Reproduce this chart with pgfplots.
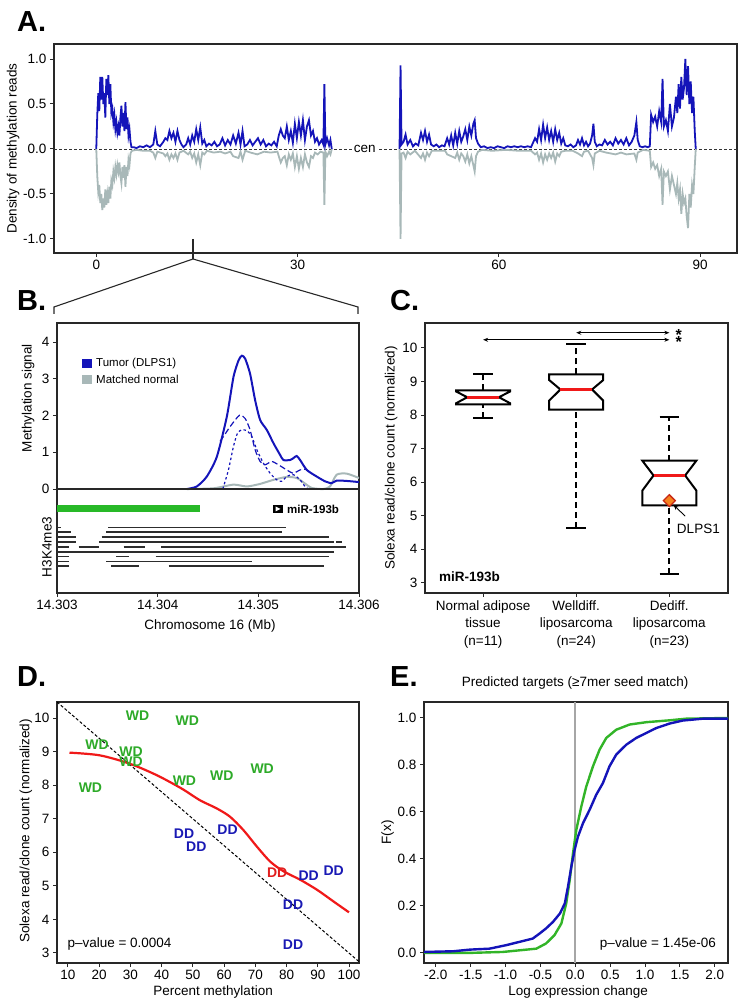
\documentclass[border=0pt]{standalone}
\usepackage{fontspec}
\setmainfont{Liberation Sans}
\usepackage{pgfplots}
\pgfplotsset{compat=1.18}
\usetikzlibrary{arrows.meta}
\definecolor{ablue}{RGB}{20,20,185}
\definecolor{agray}{RGB}{168,184,184}
\definecolor{bgreen}{RGB}{40,185,40}
\definecolor{wdgreen}{RGB}{45,170,40}
\definecolor{ddblue}{RGB}{25,25,180}
\definecolor{ddred}{RGB}{225,30,30}
\definecolor{lred}{RGB}{240,25,25}
\definecolor{egreen}{RGB}{50,180,40}
\definecolor{dorange}{RGB}{245,130,30}
\definecolor{dborder}{RGB}{200,40,20}
\definecolor{h3k}{RGB}{45,45,45}
\definecolor{frame}{RGB}{40,40,40}
\newcommand{\fs}{\fontsize{13.5}{17.5}\selectfont}
\pgfplotsset{
  myaxis/.style={
    scale only axis,
    anchor=south west,
    axis line style={line width=1.3pt, draw=frame},
    tick style={line width=1pt, draw=frame},
    major tick length=4pt,
    tick align=outside,
    tick pos=left,
    /pgf/number format/assume math mode=true,
    tick label style={font=\fs},
    label style={font=\fs},
    title style={font=\fs},
  },
  onedec/.style={/pgf/number format/.cd, fixed, fixed zerofill, precision=1},
}
\begin{document}
\begin{tikzpicture}
\useasboundingbox (0pt,0pt) rectangle (746pt,1008pt);

% ---------------- Panel A ----------------
\begin{axis}[myaxis, at={(54pt,755pt)}, width=683pt, height=209pt,
  xmin=-6.3, xmax=95.5, ymin=-1.156, ymax=1.167,
  xtick={0,30,60,90}, ytick={-1,-0.5,0,0.5,1},
  yticklabel style={onedec},
  ylabel={Density of methylation reads},
  ylabel style={at={(axis description cs:-0.060,0.5)}, anchor=center}]
\addplot[black!80, line width=0.8pt, dash pattern=on 3pt off 2pt] coordinates {(-6.3,0)(95.5,0)};
\addplot[agray, line width=1.8pt] coordinates {
(0,0)(0.15,-0.3)(0.3,-0.48)(0.45,-0.4)(0.6,-0.6)(0.75,-0.5)(0.9,-0.68)(1.05,-0.55)(1.2,-0.65)(1.35,-0.45)
(1.5,-0.62)(1.65,-0.5)(1.8,-0.6)(1.95,-0.42)(2.1,-0.55)(2.25,-0.35)(2.4,-0.4)(2.55,-0.25)(2.7,-0.32)(2.85,-0.2)
(3.0,-0.28)(3.15,-0.18)(3.3,-0.25)(3.45,-0.15)(3.6,-0.3)(3.75,-0.38)(3.9,-0.2)(4.05,-0.32)(4.2,-0.18)(4.35,-0.42)
(4.5,-0.2)(4.65,-0.3)(4.8,-0.12)(4.95,-0.18)(5.1,-0.05)(5.3,-0.02)(6,-0.01)(7,-0.02)(8,-0.02)(8.5,-0.04)
(8.8,-0.1)(9.1,-0.03)(10,-0.05)(10.3,-0.08)(10.6,-0.05)(10.9,-0.12)(11.2,-0.06)(11.5,-0.1)(11.8,-0.05)(12.1,-0.12)
(12.4,-0.04)(13,-0.02)(13.7,-0.06)(14,-0.03)(14.3,-0.1)(14.6,-0.05)(14.9,-0.15)(15.2,-0.06)(15.5,-0.18)(15.8,-0.04)
(16.1,-0.06)(16.5,-0.02)(17.5,-0.04)(18.5,-0.03)(19.2,-0.05)(20,-0.03)(20.4,-0.08)(21.2,-0.1)(21.5,-0.03)(21.8,-0.12)
(22.2,-0.02)(23,-0.04)(24,-0.06)(25,-0.03)(26,-0.04)(27,-0.03)(27.2,-0.08)(27.5,-0.15)(27.8,-0.1)(28.1,-0.08)
(28.4,-0.18)(28.7,-0.06)(29,-0.12)(29.3,-0.05)(29.6,-0.2)(29.9,-0.08)(30.2,-0.22)(30.5,-0.1)(30.8,-0.2)(31.1,-0.06)
(31.4,-0.15)(31.7,-0.2)(32,-0.08)(32.3,-0.1)(32.6,-0.04)(33,-0.06)(33.4,-0.03)(33.85,-0.04)(34.0,-0.62)(34.15,-0.03)
(34.4,-0.08)(34.7,-0.03)(34.9,-0.06)(35.1,0)};
\addplot[agray, line width=1.8pt] coordinates {
(45.2,0)(45.35,-1.0)(45.5,-0.05)(45.8,-0.04)(46.1,-0.1)(46.4,-0.03)(46.8,-0.06)(47.5,-0.02)(48.4,-0.1)(48.7,-0.05)
(49.0,-0.12)(49.3,-0.04)(49.6,-0.08)(50,-0.02)(51,-0.02)(52,-0.02)(52.3,-0.06)(52.9,-0.08)(53.5,-0.1)(53.8,-0.04)
(54.1,-0.12)(54.4,-0.05)(54.7,-0.08)(55,-0.14)(55.3,-0.06)(55.6,-0.16)(55.9,-0.08)(56.2,-0.18)(56.4,-0.25)(56.6,-0.08)
(56.9,-0.03)(57.5,-0.01)(59,-0.02)(61,-0.01)(63,-0.02)(64.8,-0.02)(65.4,-0.06)(65.7,-0.04)(66,-0.12)(66.3,-0.05)
(66.6,-0.15)(66.9,-0.06)(67.2,-0.12)(67.5,-0.05)(67.8,-0.1)(68.1,-0.04)(68.4,-0.14)(68.7,-0.05)(69,-0.08)(69.3,-0.03)
(69.9,-0.02)(71,-0.02)(71.8,-0.05)(72.4,-0.08)(72.7,-0.03)(73.3,-0.02)(73.9,-0.1)(74.1,-0.18)(74.3,-0.05)(75,-0.02)
(76,-0.04)(77.4,-0.06)(78.2,-0.04)(79,-0.06)(80.2,-0.05)(80.5,-0.12)(80.7,-0.04)(81.5,-0.01)(82.5,-0.02)(82.7,-0.2)
(83.0,-0.15)(83.3,-0.22)(83.6,-0.18)(83.9,-0.3)(84.2,-0.22)(84.4,-0.62)(84.6,-0.25)(84.9,-0.3)(85.2,-0.25)(85.5,-0.45)
(85.8,-0.3)(86.1,-0.4)(86.4,-0.5)(86.6,-0.38)(86.8,-0.55)(87.0,-0.45)(87.2,-0.72)(87.4,-0.5)(87.6,-0.6)(87.8,-0.55)
(88.0,-0.75)(88.2,-0.88)(88.4,-0.5)(88.6,-0.65)(88.8,-0.4)(89.0,-0.5)(89.2,-0.2)(89.35,0)};
\addplot[ablue, line width=1.8pt] coordinates {
(0,0)(0.15,0.38)(0.3,0.62)(0.45,0.42)(0.6,0.8)(0.75,0.55)(0.9,0.8)(1.05,0.5)(1.2,0.62)(1.35,0.35)
(1.5,0.78)(1.65,0.6)(1.8,0.82)(1.95,0.5)(2.1,0.72)(2.25,0.4)(2.4,0.45)(2.55,0.3)(2.7,0.38)(2.85,0.22)
(3.0,0.3)(3.15,0.18)(3.3,0.25)(3.45,0.15)(3.6,0.35)(3.75,0.48)(3.9,0.25)(4.05,0.4)(4.2,0.2)(4.35,0.52)
(4.5,0.22)(4.65,0.35)(4.8,0.15)(4.95,0.22)(5.1,0.08)(5.25,0.02)(5.6,0.02)(6,0.01)(6.5,0.03)(7,0.02)
(7.5,0.04)(8,0.02)(8.5,0.05)(8.8,0.2)(9.1,0.05)(9.5,0.03)(10,0.08)(10.3,0.12)(10.6,0.1)(10.9,0.2)
(11.2,0.12)(11.5,0.18)(11.8,0.08)(12.1,0.2)(12.4,0.1)(12.7,0.05)(13,0.02)(13.4,0.05)(13.7,0.12)(14,0.05)
(14.3,0.15)(14.6,0.08)(14.9,0.22)(15.2,0.1)(15.5,0.24)(15.8,0.06)(16.1,0.1)(16.4,0.03)(16.8,0.06)(17.2,0.04)
(17.6,0.08)(18,0.03)(18.4,0.05)(18.8,0.12)(19.2,0.04)(19.6,0.1)(20,0.05)(20.4,0.15)(20.8,0.06)(21.2,0.18)
(21.5,0.05)(21.8,0.2)(22.1,0.03)(22.5,0.05)(22.9,0.1)(23.3,0.04)(23.7,0.08)(24.1,0.12)(24.5,0.05)(24.9,0.1)
(25.3,0.03)(25.7,0.06)(26.1,0.04)(26.5,0.08)(26.9,0.03)(27.2,0.15)(27.5,0.22)(27.8,0.15)(28.1,0.12)(28.4,0.25)
(28.7,0.1)(29,0.2)(29.3,0.07)(29.6,0.28)(29.9,0.12)(30.2,0.3)(30.5,0.15)(30.8,0.32)(31.1,0.1)(31.4,0.25)
(31.7,0.32)(32,0.15)(32.3,0.2)(32.6,0.08)(32.9,0.12)(33.2,0.05)(33.6,0.1)(33.85,0.05)(34.0,0.72)(34.15,0.05)
(34.4,0.12)(34.7,0.04)(34.9,0.1)(35.1,0)};
\addplot[ablue, line width=1.8pt] coordinates {
(45.2,0)(45.35,0.93)(45.5,0.05)(45.8,0.08)(46.1,0.16)(46.4,0.05)(46.8,0.1)(47.2,0.03)(47.6,0.06)(48.0,0.04)
(48.4,0.18)(48.7,0.1)(49.0,0.2)(49.3,0.08)(49.6,0.16)(49.9,0.05)(50.3,0.03)(50.7,0.05)(51.1,0.02)(51.5,0.04)
(51.9,0.03)(52.3,0.12)(52.6,0.05)(52.9,0.15)(53.2,0.04)(53.5,0.18)(53.8,0.06)(54.1,0.2)(54.4,0.08)(54.7,0.14)
(55.0,0.22)(55.3,0.1)(55.6,0.25)(55.9,0.15)(56.2,0.28)(56.4,0.32)(56.6,0.12)(56.9,0.06)(57.3,0.02)(57.8,0.03)
(58.3,0.01)(58.8,0.02)(59.3,0.01)(59.8,0.03)(60.3,0.02)(60.8,0.01)(61.3,0.03)(61.8,0.02)(62.3,0.03)(62.8,0.02)
(63.3,0.03)(63.8,0.02)(64.3,0.03)(64.8,0.02)(65.4,0.12)(65.7,0.08)(66.0,0.22)(66.3,0.1)(66.6,0.27)(66.9,0.12)
(67.2,0.24)(67.5,0.1)(67.8,0.2)(68.1,0.08)(68.4,0.22)(68.7,0.1)(69.0,0.18)(69.3,0.06)(69.6,0.12)(69.9,0.04)
(70.3,0.03)(70.7,0.05)(71.1,0.02)(71.5,0.04)(71.8,0.1)(72.1,0.05)(72.4,0.12)(72.7,0.04)(73.0,0.08)(73.3,0.03)
(73.6,0.06)(73.9,0.15)(74.1,0.28)(74.3,0.08)(74.6,0.03)(75.0,0.05)(75.4,0.04)(75.8,0.1)(76.2,0.05)(76.6,0.08)
(77.0,0.04)(77.4,0.12)(77.8,0.06)(78.2,0.1)(78.6,0.05)(79.0,0.12)(79.4,0.04)(79.8,0.08)(80.2,0.15)(80.5,0.3)
(80.7,0.1)(81.0,0.03)(81.4,0.02)(81.8,0.03)(82.2,0.02)(82.5,0.03)(82.7,0.38)(83.0,0.3)(83.3,0.36)(83.6,0.25)
(83.9,0.42)(84.2,0.3)(84.4,0.78)(84.6,0.25)(84.9,0.32)(85.2,0.2)(85.5,0.5)(85.8,0.25)(86.1,0.35)(86.4,0.58)
(86.6,0.4)(86.8,0.72)(87.0,0.45)(87.2,0.8)(87.4,0.55)(87.6,0.68)(87.8,1.0)(88.0,0.6)(88.2,0.92)(88.4,0.5)
(88.6,0.75)(88.8,0.4)(89.0,0.58)(89.2,0.2)(89.35,0)};
\node[fill=white, inner sep=1pt, font=\fs] at (axis cs:40,0) {cen};
\end{axis}

% ---------------- Panel B ----------------
\begin{axis}[myaxis, at={(57pt,415pt)}, width=302pt, height=270pt,
  xmin=0, xmax=3, ymin=-2.83, ymax=4.52,
  xtick={0,1,2,3}, xticklabels={14.303,14.304,14.305,14.306},
  ytick={0,1,2,3,4},
  ylabel={Methylation signal},
  ylabel style={at={(axis description cs:-0.096,0.722)}, anchor=center},
  xlabel={Chromosome 16 (Mb)},
  xlabel style={at={(axis description cs:0.507,-0.122)}, anchor=center}]
\addplot[agray, line width=2pt, smooth, tension=0.4] coordinates {
(1.290,0)(1.555,0.02)(1.753,0.12)(1.886,0.07)(2.018,0.14)(2.150,0.25)(2.282,0.33)(2.381,0.30)(2.448,0.18)(2.530,0.03)
(2.646,0)(2.712,0.07)(2.778,0.39)(2.878,0.42)(3.0,0.30)};
\addplot[ablue, line width=1.2pt, dash pattern=on 2.5pt off 2.5pt, smooth, tension=0.4] coordinates {
(1.647,0)(1.703,0.52)(1.753,1.16)(1.793,1.52)(1.836,1.61)(1.886,1.59)(1.935,1.43)(1.985,1.07)(2.051,0.70)(2.117,0.43)
(2.183,0.25)(2.233,0.21)(2.282,0.34)(2.348,0.39)(2.415,0.25)(2.464,0.07)(2.497,0)};
\addplot[ablue, line width=1.2pt, dash pattern=on 6pt off 3pt, smooth, tension=0.4] coordinates {
(1.62,1.30)(1.654,1.43)(1.720,1.70)(1.813,2.01)(1.869,1.92)(1.918,1.61)(1.968,1.07)(2.018,0.75)(2.067,0.66)(2.133,0.75)
(2.200,0.66)(2.282,0.52)(2.348,0.43)(2.415,0.52)(2.481,0.54)};
\addplot[ablue, line width=2pt, smooth, tension=0.4] coordinates {
(1.290,0)(1.389,0.07)(1.488,0.34)(1.588,0.88)(1.687,1.97)(1.753,3.05)(1.803,3.50)(1.836,3.63)(1.869,3.55)(1.918,3.14)
(1.968,2.42)(2.018,1.88)(2.084,1.61)(2.150,1.25)(2.216,0.93)(2.249,0.79)(2.315,0.79)(2.348,0.84)(2.381,0.90)(2.415,0.79)
(2.481,0.52)(2.580,0.34)(2.663,0.21)(2.729,0.16)(2.778,0.23)(2.878,0.22)(3.0,0.19)};
\addplot[frame, line width=1.3pt] coordinates {(0,0)(3,0)};
\addplot[bgreen, line width=7pt] coordinates {(0,-0.543)(1.417,-0.543)};
\addplot[h3k, line width=1.8pt, unbounded coords=jump] coordinates {
(0,-1.046)(0.043,-1.046)(0.2,nan)(0.507,-1.046)(2.278,-1.046)(2.5,nan)
(0,-1.178)(0.142,-1.178)(0.3,nan)(0.490,-1.178)(2.232,-1.178)(2.5,nan)
(0,-1.310)(0.185,-1.310)(0.3,nan)(0.444,-1.310)(2.702,-1.310)(2.8,nan)
(0,-1.442)(0.192,-1.442)(0.3,nan)(0.417,-1.442)(2.748,-1.442)(2.76,nan)(2.775,-1.442)(2.828,-1.442)(2.9,nan)
(0,-1.574)(0.116,-1.574)(0.15,nan)(0.215,-1.574)(0.414,-1.574)(0.5,nan)(0.662,-1.574)(0.871,-1.574)(0.9,nan)(1.036,-1.574)(2.874,-1.574)(2.9,nan)
(0,-1.706)(2.755,-1.706)(2.8,nan)
(0,-1.838)(0.116,-1.838)(0.3,nan)(0.589,-1.838)(0.712,-1.838)(0.8,nan)(0.980,-1.838)(2.702,-1.838)(2.8,nan)
(0,-1.970)(0.116,-1.970)(0.3,nan)(0.487,-1.970)(1.934,-1.970)(2.0,nan)
(0,-2.102)(0.116,-2.102)(0.3,nan)(0.540,-2.102)(0.811,-2.102)(0.9,nan)(1.109,-2.102)(2.652,-2.102)};
\end{axis}

% ---------------- Panel C ----------------
\begin{axis}[myaxis, at={(425pt,415pt)}, width=303pt, height=270pt,
  xmin=0.376, xmax=3.63, ymin=2.70, ymax=10.74,
  xtick={1,2,3},
  xticklabels={{Normal adipose\\tissue\\(n=11)},{Welldiff.\\liposarcoma\\(n=24)},{Dediff.\\liposarcoma\\(n=23)}},
  xticklabel style={align=center},
  ytick={3,4,5,6,7,8,9,10},
  ylabel={Solexa read/clone count (normalized)},
  ylabel style={at={(axis description cs:-0.112,0.5)}, anchor=center}]
\addplot[black, line width=2pt, dash pattern=on 6pt off 4pt] coordinates {(1,7.91)(1,8.32)};
\addplot[black, line width=2pt, dash pattern=on 6pt off 4pt] coordinates {(1,8.73)(1,9.21)};
\addplot[black, line width=2pt, dash pattern=on 6pt off 4pt] coordinates {(2,4.64)(2,8.16)};
\addplot[black, line width=2pt, dash pattern=on 6pt off 4pt] coordinates {(2,9.21)(2,10.1)};
\addplot[black, line width=2pt, dash pattern=on 6pt off 4pt] coordinates {(3,3.28)(3,5.31)};
\addplot[black, line width=2pt, dash pattern=on 6pt off 4pt] coordinates {(3,6.64)(3,7.95)};
\addplot[black, line width=2pt] coordinates {(0.895,7.91)(1.105,7.91)};
\addplot[black, line width=2pt] coordinates {(0.895,9.21)(1.105,9.21)};
\addplot[black, line width=2pt] coordinates {(1.895,4.64)(2.105,4.64)};
\addplot[black, line width=2pt] coordinates {(1.895,10.1)(2.105,10.1)};
\addplot[black, line width=2pt] coordinates {(2.895,3.28)(3.105,3.28)};
\addplot[black, line width=2pt] coordinates {(2.895,7.95)(3.105,7.95)};
\addplot[black, line width=2pt, fill=white, line join=miter] coordinates {
(0.71,8.32)(1.29,8.32)(1.29,8.35)(1.17,8.53)(1.29,8.70)(1.29,8.73)(0.71,8.73)(0.71,8.70)(0.83,8.53)(0.71,8.35)(0.71,8.32)(1.29,8.32)};
\addplot[black, line width=2pt, fill=white, line join=miter] coordinates {
(1.71,8.16)(2.29,8.16)(2.29,8.43)(2.17,8.76)(2.29,9.04)(2.29,9.21)(1.71,9.21)(1.71,9.04)(1.83,8.76)(1.71,8.43)(1.71,8.16)(2.29,8.16)};
\addplot[black, line width=2pt, fill=white, line join=miter] coordinates {
(2.71,5.31)(3.29,5.31)(3.29,5.75)(3.17,6.20)(3.29,6.64)(2.71,6.64)(2.83,6.20)(2.71,5.75)(2.71,5.31)(3.29,5.31)};
\addplot[lred, line width=3pt] coordinates {(0.83,8.53)(1.17,8.53)};
\addplot[lred, line width=3pt] coordinates {(1.83,8.76)(2.17,8.76)};
\addplot[lred, line width=3pt] coordinates {(2.83,6.20)(3.17,6.20)};
\addplot[only marks, mark=square*, mark size=4.2pt, mark options={rotate=45, fill=dorange, draw=dborder, line width=1.3pt}] coordinates {(3,5.45)};
\addplot[black, line width=0.9pt, -{Stealth[length=5pt,width=4pt]}] coordinates {(3.17,4.99)(3.045,5.32)};
\node[anchor=west, inner sep=0, font=\fs] at (axis cs:3.08,4.61) {DLPS1};
\addplot[black, line width=0.9pt, {Stealth[length=5pt,width=4pt]}-{Stealth[length=5pt,width=4pt]}] coordinates {(2,10.45)(3,10.45)};
\addplot[black, line width=0.9pt, {Stealth[length=5pt,width=4pt]}-{Stealth[length=5pt,width=4pt]}] coordinates {(1,10.24)(3,10.24)};
\node[font=\fontsize{16}{16}\selectfont\bfseries, inner sep=0] at (axis cs:3.10,10.37) {*};
\node[font=\fontsize{16}{16}\selectfont\bfseries, inner sep=0] at (axis cs:3.10,10.16) {*};
\node[anchor=west, inner sep=0, font=\fs\bfseries] at (axis cs:0.525,3.18) {miR-193b};
\end{axis}

% ---------------- Panel D ----------------
\begin{axis}[myaxis, at={(57pt,45pt)}, width=302pt, height=261pt,
  xmin=6.5, xmax=103.2, ymin=2.70, ymax=10.48,
  xtick={10,20,30,40,50,60,70,80,90,100}, ytick={3,4,5,6,7,8,9,10},
  xlabel={Percent methylation},
  xlabel style={at={(axis description cs:0.517,-0.111)}, anchor=center},
  ylabel={Solexa read/clone count (normalized)},
  ylabel style={at={(axis description cs:-0.103,0.506)}, anchor=center}]
\addplot[black, line width=1pt, dash pattern=on 3pt off 2pt] coordinates {(6.5,10.48)(103.2,2.74)};
\addplot[lred, line width=2.2pt, smooth, tension=0.5] coordinates {
(10.5,8.97)(20.2,8.89)(29.8,8.64)(38.4,8.30)(46.4,7.90)(52.3,7.55)(57.6,7.31)(61.9,7.06)(66.2,6.66)(70.5,6.17)
(74.8,5.72)(79.1,5.43)(84.4,5.18)(89.8,4.88)(95.1,4.53)(100,4.21)};
\addplot[only marks, mark=none, nodes near coords={WD},
  every node near coord/.style={anchor=center, inner sep=0, text=wdgreen, font=\fontsize{14}{14}\selectfont\bfseries}]
  coordinates {(32.3,10.06)(48.2,9.91)(19.3,9.22)(30.2,8.99)(30.2,8.69)(17.2,7.93)(47.3,8.13)(59.3,8.29)(72.2,8.50)};
\addplot[only marks, mark=none, nodes near coords={DD},
  every node near coord/.style={anchor=center, inner sep=0, text=ddblue, font=\fontsize{14}{14}\selectfont\bfseries}]
  coordinates {(47.2,6.54)(51.1,6.16)(61.1,6.68)(87.1,5.30)(95.1,5.46)(82.1,4.44)(82.1,3.26)};
\addplot[only marks, mark=none, nodes near coords={DD},
  every node near coord/.style={anchor=center, inner sep=0, text=ddred, font=\fontsize{14}{14}\selectfont\bfseries}]
  coordinates {(77.0,5.38)};
\node[anchor=west, inner sep=0, font=\fs] at (axis cs:9.8,3.27) {p\textendash value = 0.0004};
\end{axis}

% ---------------- Panel E ----------------
\begin{axis}[myaxis, at={(424pt,45pt)}, width=304pt, height=261pt,
  xmin=-2.17, xmax=2.19, ymin=-0.043, ymax=1.068,
  xtick={-2,-1.5,-1,-0.5,0,0.5,1,1.5,2}, ytick={0,0.2,0.4,0.6,0.8,1},
  xticklabel style={onedec}, yticklabel style={onedec},
  xlabel={Log expression change},
  xlabel style={at={(axis description cs:0.507,-0.111)}, anchor=center},
  ylabel={F(x)},
  ylabel style={at={(axis description cs:-0.12,0.5)}, anchor=center},
  title={Predicted targets (≥7mer seed match)},
  title style={at={(axis description cs:0.497,1.05)}, anchor=center, yshift=0pt}]
\addplot[black!35, line width=1.8pt] coordinates {(0,-0.043)(0,1.068)};
\addplot[egreen, line width=2.4pt] coordinates {
(-2.17,0.0)(-1.51,0.0)(-1.04,0.004)(-0.80,0.011)(-0.56,0.018)(-0.42,0.04)(-0.30,0.075)(-0.20,0.125)(-0.13,0.211)(-0.08,0.31)
(-0.033,0.424)(0.014,0.523)(0.086,0.623)(0.157,0.708)(0.253,0.794)(0.348,0.865)(0.444,0.915)(0.587,0.950)(0.778,0.972)(1.017,0.982)
(1.35,0.990)(1.59,0.997)(2.19,1.0)};
\addplot[ablue, line width=2.4pt] coordinates {
(-2.17,0.004)(-1.75,0.007)(-1.51,0.014)(-1.23,0.018)(-0.99,0.033)(-0.80,0.047)(-0.61,0.061)(-0.51,0.083)(-0.42,0.104)(-0.32,0.132)
(-0.22,0.168)(-0.15,0.211)(-0.105,0.282)(-0.057,0.367)(-0.01,0.438)(0.038,0.495)(0.11,0.552)(0.205,0.609)(0.30,0.673)(0.396,0.723)
(0.49,0.794)(0.587,0.844)(0.73,0.886)(0.874,0.915)(1.017,0.936)(1.16,0.957)(1.35,0.976)(1.54,0.989)(1.83,0.997)(2.19,0.997)};
\node[anchor=east, inner sep=0, font=\fs] at (axis cs:2.02,0.036) {p\textendash value = 1.45e-06};
\end{axis}

% ---------------- annotations ----------------
\draw[frame, line width=1.1pt] (193pt,769pt) -- (193pt,749pt);
\draw[frame, line width=1.1pt] (54pt,694pt) -- (54pt,701pt) -- (193pt,749pt) -- (358pt,701pt) -- (358pt,694pt);
\fill[ablue] (82pt,640pt) rectangle (92pt,649pt);
\fill[agray] (82pt,624pt) rectangle (92pt,633pt);
\node[anchor=west, inner sep=0, font=\fontsize{11.5}{13}\selectfont] at (96pt,644.5pt) {Tumor (DLPS1)};
\node[anchor=west, inner sep=0, font=\fontsize{11.5}{13}\selectfont] at (96pt,628.5pt) {Matched normal};
\fill[black] (273pt,495pt) rectangle (283pt,503pt);
\fill[white] (275.5pt,496.5pt) -- (280.5pt,499pt) -- (275.5pt,501.5pt) -- cycle;
\node[anchor=west, inner sep=0, font=\fontsize{11.5}{13}\selectfont\bfseries] at (287pt,499pt) {miR-193b};
\node[rotate=90, anchor=center, inner sep=0, font=\fs] at (47pt,461pt) {H3K4me3};
\node[anchor=base west, inner sep=0, font=\fontsize{29}{30}\selectfont\bfseries] at (17pt,976pt) {A.};
\node[anchor=base west, inner sep=0, font=\fontsize{29}{30}\selectfont\bfseries] at (17pt,697pt) {B.};
\node[anchor=base west, inner sep=0, font=\fontsize{29}{30}\selectfont\bfseries] at (390pt,697pt) {C.};
\node[anchor=base west, inner sep=0, font=\fontsize{29}{30}\selectfont\bfseries] at (17pt,321pt) {D.};
\node[anchor=base west, inner sep=0, font=\fontsize{29}{30}\selectfont\bfseries] at (390pt,321pt) {E.};
\end{tikzpicture}
\end{document}
